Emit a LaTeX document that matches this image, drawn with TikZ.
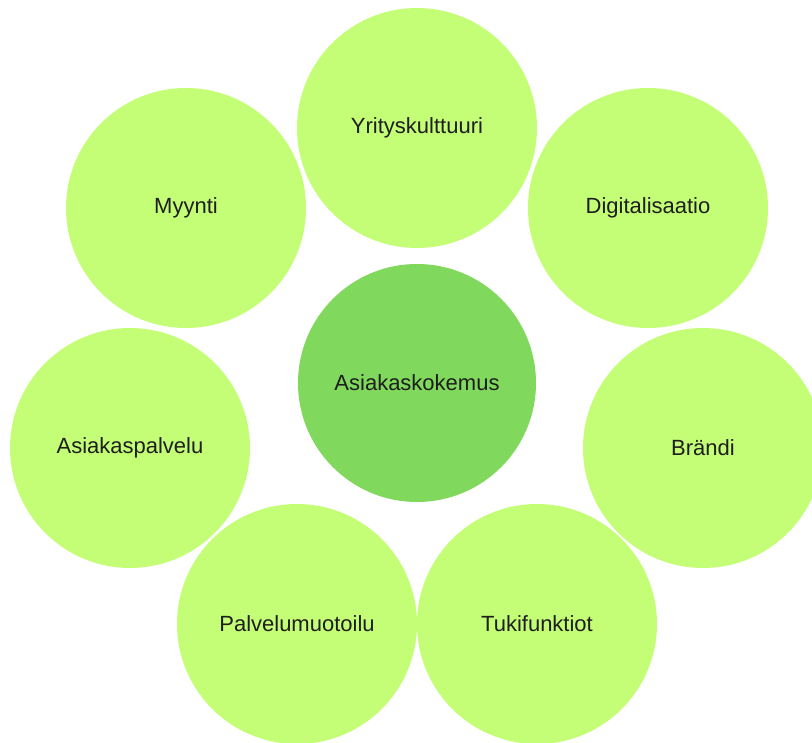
\documentclass[tikz,border=0pt]{standalone}
\usepackage{fontspec}
\setmainfont{Liberation Sans}
\definecolor{outerc}{RGB}{196,254,118}
\definecolor{innerc}{RGB}{128,217,92}
\definecolor{txt}{RGB}{30,30,30}
\begin{document}
\begin{tikzpicture}[x=1pt,y=-1pt,
  bub/.style={circle,minimum size=240pt,inner sep=0pt,fill=outerc,text=txt,
    font=\fontsize{22}{26}\selectfont},
  core/.style={bub,fill=innerc,minimum size=238pt}]
\useasboundingbox (0,0) rectangle (812,743);
\clip (0,0) rectangle (812,743);
\node[bub] (yk) at (417,128) {Yrityskulttuuri};
\node[bub] (my) at (186,208) {Myynti};
\node[bub] (di) at (648,208) {Digitalisaatio};
\node[bub] (ap) at (130,448) {Asiakaspalvelu};
\node[bub] (br) at (703,448) {Brändi};
\node[bub] (pm) at (297,624) {Palvelumuotoilu};
\node[bub] (tf) at (537,624) {Tukifunktiot};
\node[core] (ak) at (417,383) {Asiakaskokemus};
\end{tikzpicture}
\end{document}
